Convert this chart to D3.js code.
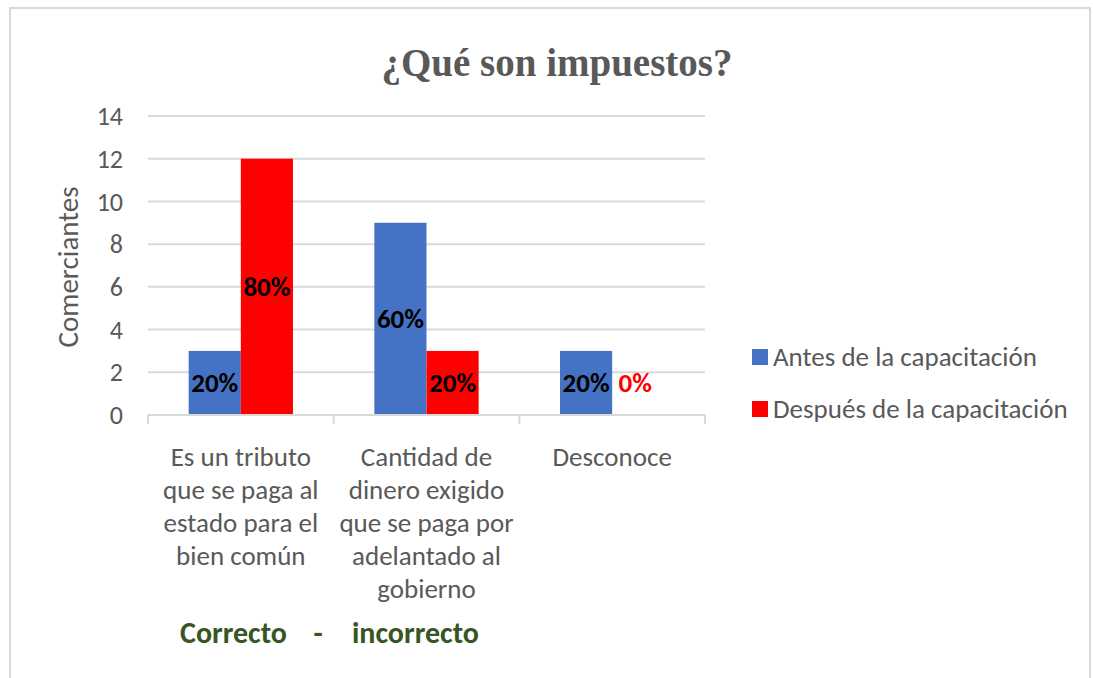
<!DOCTYPE html>
<html>
<head>
<meta charset="utf-8">
<script src="https://cdn.jsdelivr.net/npm/d3@7"></script>
<style>
  body { margin: 0; background: #fff; }
  svg { display: block; }
</style>
</head>
<body>
<svg id="chart" width="1093" height="678"></svg>
<script>
"use strict";

// data
var categories = [
  ["Es un tributo", "que se paga al", "estado para el", "bien común"],
  ["Cantidad de", "dinero exigido", "que se paga por", "adelantado al", "gobierno"],
  ["Desconoce"]
];
var seriesNames = ["Antes de la capacitación", "Después de la capacitación"];
var antes = [3, 9, 3];
var despues = [12, 3, 0];
var antesLabels = ["20%", "60%", "20%"];
var despuesLabels = ["80%", "20%", "0%"];
var yTicks = [0, 2, 4, 6, 8, 10, 12, 14];

var colors = ["#4472c4", "#ff0000"];
var textGray = "#595959";
var font = "Carlito, Calibri, 'Liberation Sans', sans-serif";

var svg = d3.select("#chart");

// outer frame (bottom edge runs off the page)
svg.append("rect")
  .attr("x", 10).attr("y", 8)
  .attr("width", 1080).attr("height", 700)
  .attr("fill", "none")
  .attr("stroke", "#d9d9d9")
  .attr("stroke-width", 2);

var margin = { left: 148, right: 705, top: 116, bottom: 415 };

var x = d3.scaleBand()
  .domain(d3.range(categories.length))
  .range([margin.left, margin.right]);

var y = d3.scaleLinear()
  .domain([0, 14])
  .range([margin.bottom, margin.top]);

var inner = d3.scaleBand()
  .domain([0, 1])
  .range([0, x.bandwidth()])
  .paddingOuter(0.78)
  .paddingInner(0);

// gridlines
svg.append("g")
  .selectAll("line")
  .data(yTicks.filter(function(d) { return d > 0; }))
  .join("line")
  .attr("x1", margin.left).attr("x2", margin.right)
  .attr("y1", function(d) { return y(d); })
  .attr("y2", function(d) { return y(d); })
  .attr("stroke", "#d9d9d9")
  .attr("stroke-width", 2);

// y tick labels
svg.append("g")
  .selectAll("text")
  .data(yTicks)
  .join("text")
  .attr("x", 123)
  .attr("y", function(d) { return y(d); })
  .attr("dy", "0.35em")
  .attr("text-anchor", "end")
  .attr("font-family", font)
  .attr("font-size", 26)
  .attr("fill", textGray)
  .text(function(d) { return d; });

// y axis title
svg.append("text")
  .attr("transform", "translate(78," + 267 + ") rotate(-90)")
  .attr("text-anchor", "middle")
  .attr("font-family", font)
  .attr("font-size", 29)
  .attr("fill", textGray)
  .text("Comerciantes");

// bars
var groups = svg.append("g")
  .selectAll("g")
  .data(categories.map(function(c, i) { return i; }))
  .join("g")
  .attr("transform", function(i) { return "translate(" + x(i) + ",0)"; });

var series = [antes, despues];
var labels = [antesLabels, despuesLabels];

groups.each(function(i) {
  var g = d3.select(this);
  series.forEach(function(vals, s) {
    var v = vals[i];
    if (v > 0) {
      g.append("rect")
        .attr("x", inner(s))
        .attr("y", y(v))
        .attr("width", inner.bandwidth())
        .attr("height", y(0) - y(v))
        .attr("fill", colors[s]);
    }
  });
  series.forEach(function(vals, s) {
    var v = vals[i];
    var ly = v > 0 ? y(v / 2) : y(1.5);
    g.append("text")
      .attr("x", inner(s) + inner.bandwidth() / 2 + (v > 0 ? 0 : -3))
      .attr("y", ly)
      .attr("dy", "0.35em")
      .attr("text-anchor", "middle")
      .attr("font-family", font)
      .attr("font-size", 27)
      .attr("font-weight", "bold")
      .attr("fill", v > 0 ? "#000" : "#ff0000")
      .text(labels[s][i]);
  });
});

// x axis line and ticks
var axis = svg.append("g").attr("stroke", "#d9d9d9").attr("stroke-width", 2);
axis.append("line")
  .attr("x1", margin.left).attr("x2", margin.right)
  .attr("y1", y(0)).attr("y2", y(0));
axis.selectAll("line.tick")
  .data(d3.range(categories.length + 1))
  .join("line")
  .attr("class", "tick")
  .attr("x1", function(i) { return margin.left + i * x.step(); })
  .attr("x2", function(i) { return margin.left + i * x.step(); })
  .attr("y1", y(0)).attr("y2", y(0) + 9);

// category labels
groups.append("text")
  .attr("text-anchor", "middle")
  .attr("font-family", font)
  .attr("font-size", 27)
  .attr("fill", textGray)
  .selectAll("tspan")
  .data(function(i) { return categories[i]; })
  .join("tspan")
  .attr("x", x.bandwidth() / 2)
  .attr("y", function(d, j) { return 457 + j * 32.8; })
  .attr("dy", "0.35em")
  .text(function(d) { return d; });

// note under the axis
var note = svg.append("text")
  .attr("y", 632)
  .attr("dy", "0.35em")
  .attr("font-family", font)
  .attr("font-size", 30)
  .attr("font-weight", "bold")
  .attr("fill", "#375623");
note.append("tspan").attr("x", 180).text("Correcto");
note.append("tspan").attr("x", 318).attr("text-anchor", "middle").text("-");
note.append("tspan").attr("x", 352).text("incorrecto");

// title
svg.append("text")
  .attr("x", 557)
  .attr("y", 62)
  .attr("dy", "0.35em")
  .attr("text-anchor", "middle")
  .attr("font-family", "'Liberation Serif', 'Times New Roman', serif")
  .attr("font-size", 39)
  .attr("font-weight", "bold")
  .attr("fill", textGray)
  .text("¿Qué son impuestos?");

// legend
var legend = svg.append("g")
  .selectAll("g")
  .data(seriesNames)
  .join("g")
  .attr("transform", function(d, i) { return "translate(752," + (357 + i * 52) + ")"; });

legend.append("rect")
  .attr("x", 0).attr("y", -8)
  .attr("width", 16).attr("height", 16)
  .attr("fill", function(d, i) { return colors[i]; });

legend.append("text")
  .attr("x", 21)
  .attr("dy", "0.35em")
  .attr("font-family", font)
  .attr("font-size", 27)
  .attr("fill", textGray)
  .text(function(d) { return d; });
</script>
</body>
</html>
